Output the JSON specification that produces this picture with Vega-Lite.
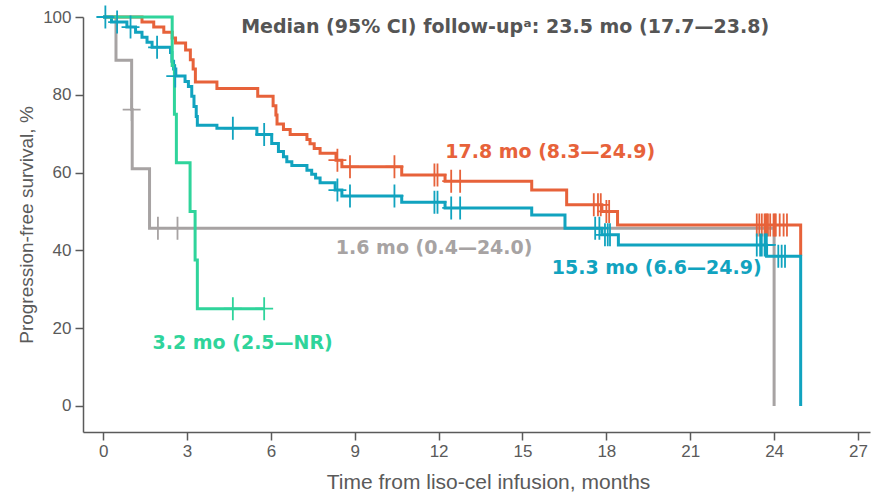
{
  "$schema": "https://vega.github.io/schema/vega-lite/v6.json",
  "width": 787,
  "height": 415,
  "autosize": {"type": "none"},
  "padding": {"left": 83, "top": 17, "right": 1, "bottom": 64},
  "background": "white",
  "config": {"view": {"stroke": null}},
  "datasets": {
    "curves": [
      {"grp": "1.6 mo", "t": 0, "s": 100}, {"grp": "1.6 mo", "t": 0.46, "s": 88.9}, {"grp": "1.6 mo", "t": 1.02, "s": 76.2}, {"grp": "1.6 mo", "t": 1.04, "s": 61.0}, {"grp": "1.6 mo", "t": 1.66, "s": 45.7}, {"grp": "1.6 mo", "t": 24.0, "s": 0},
      {"grp": "17.8 mo", "t": 0, "s": 100}, {"grp": "17.8 mo", "t": 1.39, "s": 98.7}, {"grp": "17.8 mo", "t": 1.81, "s": 97.4}, {"grp": "17.8 mo", "t": 2.17, "s": 96.1}, {"grp": "17.8 mo", "t": 2.47, "s": 94.6}, {"grp": "17.8 mo", "t": 2.59, "s": 93.3}, {"grp": "17.8 mo", "t": 2.95, "s": 91.5}, {"grp": "17.8 mo", "t": 3.12, "s": 89.0}, {"grp": "17.8 mo", "t": 3.22, "s": 86.6}, {"grp": "17.8 mo", "t": 3.3, "s": 83.3}, {"grp": "17.8 mo", "t": 4.07, "s": 81.6}, {"grp": "17.8 mo", "t": 5.53, "s": 79.6}, {"grp": "17.8 mo", "t": 6.08, "s": 77.2}, {"grp": "17.8 mo", "t": 6.18, "s": 74.8}, {"grp": "17.8 mo", "t": 6.22, "s": 72.5}, {"grp": "17.8 mo", "t": 6.45, "s": 71.1}, {"grp": "17.8 mo", "t": 6.69, "s": 69.8}, {"grp": "17.8 mo", "t": 7.29, "s": 68.5}, {"grp": "17.8 mo", "t": 7.4, "s": 67.4}, {"grp": "17.8 mo", "t": 7.55, "s": 66.2}, {"grp": "17.8 mo", "t": 7.76, "s": 65.0}, {"grp": "17.8 mo", "t": 8.33, "s": 63.2}, {"grp": "17.8 mo", "t": 8.54, "s": 61.5}, {"grp": "17.8 mo", "t": 10.68, "s": 59.4}, {"grp": "17.8 mo", "t": 12.23, "s": 57.8}, {"grp": "17.8 mo", "t": 15.33, "s": 55.5}, {"grp": "17.8 mo", "t": 16.58, "s": 51.7}, {"grp": "17.8 mo", "t": 17.84, "s": 50.0}, {"grp": "17.8 mo", "t": 18.4, "s": 46.5}, {"grp": "17.8 mo", "t": 24.95, "s": 38.6},
      {"grp": "15.3 mo", "t": 0, "s": 100}, {"grp": "15.3 mo", "t": 0.3, "s": 98.7}, {"grp": "15.3 mo", "t": 0.85, "s": 97.4}, {"grp": "15.3 mo", "t": 1.16, "s": 96.1}, {"grp": "15.3 mo", "t": 1.39, "s": 94.8}, {"grp": "15.3 mo", "t": 1.57, "s": 93.5}, {"grp": "15.3 mo", "t": 1.75, "s": 92.2}, {"grp": "15.3 mo", "t": 2.41, "s": 90.9}, {"grp": "15.3 mo", "t": 2.46, "s": 88.6}, {"grp": "15.3 mo", "t": 2.52, "s": 86.6}, {"grp": "15.3 mo", "t": 2.6, "s": 84.8}, {"grp": "15.3 mo", "t": 2.93, "s": 83.4}, {"grp": "15.3 mo", "t": 3.05, "s": 82.1}, {"grp": "15.3 mo", "t": 3.17, "s": 79.6}, {"grp": "15.3 mo", "t": 3.25, "s": 77.0}, {"grp": "15.3 mo", "t": 3.33, "s": 74.4}, {"grp": "15.3 mo", "t": 3.37, "s": 72.2}, {"grp": "15.3 mo", "t": 4.07, "s": 71.4}, {"grp": "15.3 mo", "t": 5.5, "s": 69.8}, {"grp": "15.3 mo", "t": 6.03, "s": 67.5}, {"grp": "15.3 mo", "t": 6.27, "s": 65.4}, {"grp": "15.3 mo", "t": 6.45, "s": 64.1}, {"grp": "15.3 mo", "t": 6.57, "s": 62.8}, {"grp": "15.3 mo", "t": 6.75, "s": 61.8}, {"grp": "15.3 mo", "t": 7.29, "s": 60.6}, {"grp": "15.3 mo", "t": 7.46, "s": 59.6}, {"grp": "15.3 mo", "t": 7.6, "s": 58.6}, {"grp": "15.3 mo", "t": 7.76, "s": 57.4}, {"grp": "15.3 mo", "t": 8.3, "s": 55.5}, {"grp": "15.3 mo", "t": 8.54, "s": 54.0}, {"grp": "15.3 mo", "t": 10.68, "s": 52.4}, {"grp": "15.3 mo", "t": 12.23, "s": 50.9}, {"grp": "15.3 mo", "t": 15.33, "s": 49.1}, {"grp": "15.3 mo", "t": 16.52, "s": 45.7}, {"grp": "15.3 mo", "t": 17.84, "s": 44.0}, {"grp": "15.3 mo", "t": 18.43, "s": 41.4}, {"grp": "15.3 mo", "t": 23.73, "s": 38.5}, {"grp": "15.3 mo", "t": 24.95, "s": 0},
      {"grp": "3.2 mo", "t": 0, "s": 100}, {"grp": "3.2 mo", "t": 2.47, "s": 87.5}, {"grp": "3.2 mo", "t": 2.55, "s": 75}, {"grp": "3.2 mo", "t": 2.62, "s": 62.5}, {"grp": "3.2 mo", "t": 3.11, "s": 50}, {"grp": "3.2 mo", "t": 3.29, "s": 37.5}, {"grp": "3.2 mo", "t": 3.37, "s": 25}, {"grp": "3.2 mo", "t": 5.76, "s": 25}
    ],
    "censors": [
      {"grp": "1.6 mo", "t": 1.02, "s": 76.2}, {"grp": "1.6 mo", "t": 1.96, "s": 45.7}, {"grp": "1.6 mo", "t": 2.66, "s": 45.7},
      {"grp": "17.8 mo", "t": 8.38, "s": 63.2}, {"grp": "17.8 mo", "t": 8.83, "s": 61.5}, {"grp": "17.8 mo", "t": 10.42, "s": 61.5}, {"grp": "17.8 mo", "t": 11.85, "s": 59.4}, {"grp": "17.8 mo", "t": 11.96, "s": 59.4}, {"grp": "17.8 mo", "t": 12.45, "s": 57.8}, {"grp": "17.8 mo", "t": 12.77, "s": 57.8}, {"grp": "17.8 mo", "t": 17.55, "s": 51.7}, {"grp": "17.8 mo", "t": 17.7, "s": 51.7}, {"grp": "17.8 mo", "t": 17.8, "s": 51.7}, {"grp": "17.8 mo", "t": 18.0, "s": 50.0}, {"grp": "17.8 mo", "t": 18.1, "s": 50.0}, {"grp": "17.8 mo", "t": 23.38, "s": 46.5}, {"grp": "17.8 mo", "t": 23.47, "s": 46.5}, {"grp": "17.8 mo", "t": 23.56, "s": 46.5}, {"grp": "17.8 mo", "t": 23.66, "s": 46.5}, {"grp": "17.8 mo", "t": 23.7, "s": 46.5}, {"grp": "17.8 mo", "t": 23.74, "s": 46.5}, {"grp": "17.8 mo", "t": 23.78, "s": 46.5}, {"grp": "17.8 mo", "t": 23.86, "s": 46.5}, {"grp": "17.8 mo", "t": 23.98, "s": 46.5}, {"grp": "17.8 mo", "t": 24.02, "s": 46.5}, {"grp": "17.8 mo", "t": 24.06, "s": 46.5}, {"grp": "17.8 mo", "t": 24.2, "s": 46.5}, {"grp": "17.8 mo", "t": 24.34, "s": 46.5}, {"grp": "17.8 mo", "t": 24.46, "s": 46.5},
      {"grp": "15.3 mo", "t": 0.08, "s": 100}, {"grp": "15.3 mo", "t": 0.5, "s": 98.7}, {"grp": "15.3 mo", "t": 0.98, "s": 97.4}, {"grp": "15.3 mo", "t": 1.93, "s": 92.2}, {"grp": "15.3 mo", "t": 2.58, "s": 84.8}, {"grp": "15.3 mo", "t": 4.64, "s": 71.4}, {"grp": "15.3 mo", "t": 5.76, "s": 69.8}, {"grp": "15.3 mo", "t": 8.38, "s": 55.5}, {"grp": "15.3 mo", "t": 8.83, "s": 54.0}, {"grp": "15.3 mo", "t": 10.42, "s": 54.0}, {"grp": "15.3 mo", "t": 11.85, "s": 52.4}, {"grp": "15.3 mo", "t": 11.96, "s": 52.4}, {"grp": "15.3 mo", "t": 12.45, "s": 50.9}, {"grp": "15.3 mo", "t": 12.77, "s": 50.9}, {"grp": "15.3 mo", "t": 17.6, "s": 45.7}, {"grp": "15.3 mo", "t": 17.75, "s": 45.7}, {"grp": "15.3 mo", "t": 17.95, "s": 44.0}, {"grp": "15.3 mo", "t": 18.05, "s": 44.0}, {"grp": "15.3 mo", "t": 18.13, "s": 44.0}, {"grp": "15.3 mo", "t": 23.38, "s": 41.4}, {"grp": "15.3 mo", "t": 23.5, "s": 41.4}, {"grp": "15.3 mo", "t": 23.56, "s": 41.4}, {"grp": "15.3 mo", "t": 23.66, "s": 41.4}, {"grp": "15.3 mo", "t": 23.7, "s": 41.4}, {"grp": "15.3 mo", "t": 23.74, "s": 41.4}, {"grp": "15.3 mo", "t": 24.15, "s": 38.5}, {"grp": "15.3 mo", "t": 24.27, "s": 38.5}, {"grp": "15.3 mo", "t": 24.39, "s": 38.5},
      {"grp": "3.2 mo", "t": 4.64, "s": 25}, {"grp": "3.2 mo", "t": 5.76, "s": 25}
    ],
    "notes": [
      {"label": "Median (95% CI) follow-upᵃ: 23.5 mo (17.7—23.8)", "kind": "title"},
      {"label": "17.8 mo (8.3—24.9)", "kind": "17.8 mo"},
      {"label": "1.6 mo (0.4—24.0)", "kind": "1.6 mo"},
      {"label": "15.3 mo (6.6—24.9)", "kind": "15.3 mo"},
      {"label": "3.2 mo (2.5—NR)", "kind": "3.2 mo"}
    ]
  },
  "layer": [
    {
      "data": {"name": "curves"},
      "transform": [{"filter": "datum.grp === '1.6 mo'"}],
      "mark": {"type": "line", "interpolate": "step-after", "strokeWidth": 3},
      "encoding": {
        "x": {
          "field": "t", "type": "quantitative",
          "scale": {"domain": [-0.72, 27.43], "nice": false, "zero": false},
          "axis": {
            "values": [0, 3, 6, 9, 12, 15, 18, 21, 24, 27],
            "title": "Time from liso-cel infusion, months",
            "grid": false, "domainColor": "#5a5a5a", "domainWidth": 1.5, "tickColor": "#5a5a5a", "tickWidth": 1.5, "tickSize": 8,
            "labelFont": "Liberation Sans", "labelFontSize": 17, "labelColor": "#5a5a5a", "labelPadding": 3, "labelFlush": false, "labelOverlap": false,
            "titleFont": "Liberation Sans", "titleFontSize": 21, "titleFontWeight": "normal", "titleColor": "#5a5a5a", "titlePadding": 12, "titleX": 405
          }
        },
        "y": {
          "field": "s", "type": "quantitative",
          "scale": {"domain": [-6.7, 100], "nice": false, "zero": false},
          "axis": {
            "values": [0, 20, 40, 60, 80, 100],
            "title": "Progression-free survival, %",
            "grid": false, "domainColor": "#5a5a5a", "domainWidth": 1.5, "tickColor": "#5a5a5a", "tickWidth": 1.5, "tickSize": 8,
            "labelFont": "Liberation Sans", "labelFontSize": 17, "labelColor": "#5a5a5a", "labelPadding": 4, "labelFlush": false, "labelOverlap": false,
            "titleFont": "Liberation Sans", "titleFontSize": 19, "titleFontWeight": "normal", "titleColor": "#5a5a5a", "titlePadding": 6
          }
        },
        "color": {"value": "#A7A3A3"}
      }
    },
    {
      "data": {"name": "curves"},
      "transform": [{"filter": "datum.grp === '17.8 mo'"}],
      "mark": {"type": "line", "interpolate": "step-after", "strokeWidth": 3},
      "encoding": {"x": {"field": "t", "type": "quantitative"}, "y": {"field": "s", "type": "quantitative"}, "color": {"value": "#E7623A"}}
    },
    {
      "data": {"name": "curves"},
      "transform": [{"filter": "datum.grp === '15.3 mo'"}],
      "mark": {"type": "line", "interpolate": "step-after", "strokeWidth": 3},
      "encoding": {"x": {"field": "t", "type": "quantitative"}, "y": {"field": "s", "type": "quantitative"}, "color": {"value": "#11A3BF"}}
    },
    {
      "data": {"name": "curves"},
      "transform": [{"filter": "datum.grp === '3.2 mo'"}],
      "mark": {"type": "line", "interpolate": "step-after", "strokeWidth": 3},
      "encoding": {"x": {"field": "t", "type": "quantitative"}, "y": {"field": "s", "type": "quantitative"}, "color": {"value": "#2FD49B"}}
    },
    {
      "data": {"name": "censors"},
      "mark": {"type": "point", "shape": "M-0.78,0H0.78M0,-1V1", "filled": false, "size": 529, "strokeWidth": 1.8, "opacity": 1},
      "encoding": {
        "x": {"field": "t", "type": "quantitative"},
        "y": {"field": "s", "type": "quantitative"},
        "color": {"field": "grp", "type": "nominal", "legend": null, "scale": {"domain": ["17.8 mo", "15.3 mo", "1.6 mo", "3.2 mo"], "range": ["#E7623A", "#11A3BF", "#A7A3A3", "#2FD49B"]}}
      }
    },
    {
      "data": {"name": "notes"}, "transform": [{"filter": "datum.kind === 'title'"}],
      "mark": {"type": "text", "font": "DejaVu Sans", "fontSize": 19, "fontWeight": "bold", "align": "center", "baseline": "middle", "fill": "#555555"},
      "encoding": {"x": {"datum": 14.38}, "y": {"datum": 97.4}, "text": {"field": "label"}}
    },
    {
      "data": {"name": "notes"}, "transform": [{"filter": "datum.kind === '17.8 mo'"}],
      "mark": {"type": "text", "font": "DejaVu Sans", "fontSize": 19, "fontWeight": "bold", "align": "center", "baseline": "middle", "fill": "#E7623A"},
      "encoding": {"x": {"datum": 15.99}, "y": {"datum": 65.3}, "text": {"field": "label"}}
    },
    {
      "data": {"name": "notes"}, "transform": [{"filter": "datum.kind === '1.6 mo'"}],
      "mark": {"type": "text", "font": "DejaVu Sans", "fontSize": 19, "fontWeight": "bold", "align": "center", "baseline": "middle", "fill": "#A7A3A3"},
      "encoding": {"x": {"datum": 11.84}, "y": {"datum": 40.6}, "text": {"field": "label"}}
    },
    {
      "data": {"name": "notes"}, "transform": [{"filter": "datum.kind === '15.3 mo'"}],
      "mark": {"type": "text", "font": "DejaVu Sans", "fontSize": 19, "fontWeight": "bold", "align": "center", "baseline": "middle", "fill": "#11A3BF"},
      "encoding": {"x": {"datum": 19.8}, "y": {"datum": 35.5}, "text": {"field": "label"}}
    },
    {
      "data": {"name": "notes"}, "transform": [{"filter": "datum.kind === '3.2 mo'"}],
      "mark": {"type": "text", "font": "DejaVu Sans", "fontSize": 19, "fontWeight": "bold", "align": "center", "baseline": "middle", "fill": "#2FD49B"},
      "encoding": {"x": {"datum": 4.99}, "y": {"datum": 16.2}, "text": {"field": "label"}}
    }
  ]
}
